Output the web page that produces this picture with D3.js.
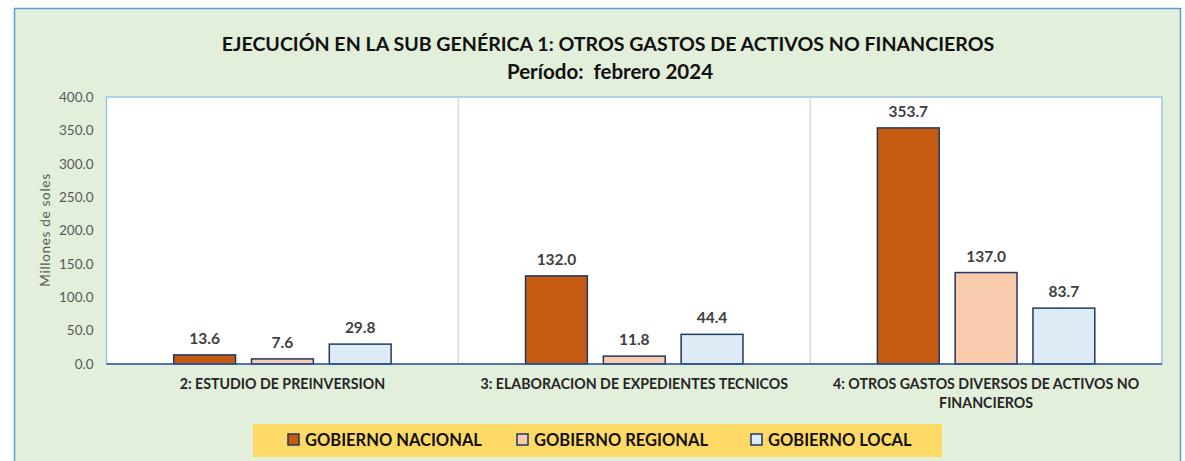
<!DOCTYPE html>
<html>
<head>
<meta charset="utf-8">
<script src="https://cdn.jsdelivr.net/npm/d3@7"></script>
<style>
  body { margin: 0; background: #fff; }
  svg { display: block; font-family: Lato, "Open Sans", sans-serif; }
</style>
</head>
<body>
<svg id="chart" width="1185" height="461"></svg>
<script>
// data
const categories = [
    ["2: ESTUDIO DE PREINVERSION"],
    ["3: ELABORACION DE EXPEDIENTES TECNICOS"],
    ["4: OTROS GASTOS DIVERSOS DE ACTIVOS NO", "FINANCIEROS"]
];
const seriesNames = ["GOBIERNO NACIONAL", "GOBIERNO REGIONAL", "GOBIERNO LOCAL"];
const nacional = [13.6, 132.0, 353.7];
const regional = [7.6, 11.8, 137.0];
const local = [29.8, 44.4, 83.7];
const yTicks = [0, 50, 100, 150, 200, 250, 300, 350, 400];
const colors = ["#C55A11", "#F8CBAD", "#DDEBF7"];

const seriesValues = [nacional, regional, local];

const svg = d3.select('#chart');

// outer frame
svg.append('rect')
    .attr('x', 14.5).attr('y', 8.5)
    .attr('width', 1166).attr('height', 460)
    .attr('fill', '#E2EFDA')
    .attr('stroke', '#5B9BD5')
    .attr('stroke-width', 1.5);

// title
svg.append('text')
    .attr('x', 608).attr('y', 51)
    .attr('text-anchor', 'middle')
    .attr('font-size', 19.6).attr('font-weight', 'bold')
    .attr('fill', '#111')
    .text('EJECUCIÓN EN LA SUB GENÉRICA 1: OTROS GASTOS DE ACTIVOS NO FINANCIEROS');
svg.append('text')
    .attr('x', 610).attr('y', 79)
    .attr('text-anchor', 'middle')
    .attr('font-size', 20.5).attr('font-weight', 'bold')
    .attr('fill', '#111')
    .attr('xml:space', 'preserve')
    .text('Período:  febrero 2024');

const plot = { left: 106.5, top: 97, right: 1162, bottom: 364 };

const y = d3.scaleLinear()
    .domain([0, 400])
    .range([plot.bottom, plot.top]);

const x0 = d3.scaleBand()
    .domain(d3.range(categories.length))
    .range([plot.left, plot.right])
    .padding(0);

const x1 = d3.scaleBand()
    .domain(d3.range(seriesNames.length))
    .range([0, x0.bandwidth()])
    .paddingInner(0.205)
    .paddingOuter(0.864);

// plot area
svg.append('rect')
    .attr('x', plot.left).attr('y', plot.top)
    .attr('width', plot.right - plot.left)
    .attr('height', plot.bottom - plot.top)
    .attr('fill', '#fff')
    .attr('stroke', '#9DC3E6')
    .attr('stroke-width', 1.5);

// category separators
svg.selectAll('.sep')
    .data(d3.range(1, categories.length))
    .join('line')
    .attr('class', 'sep')
    .attr('x1', d => x0(d)).attr('x2', d => x0(d))
    .attr('y1', plot.top).attr('y2', plot.bottom)
    .attr('stroke', '#D9D9D9')
    .attr('stroke-width', 1.5);

// y axis
const yAxis = svg.append('g')
    .attr('transform', `translate(${plot.left},0)`)
    .call(d3.axisLeft(y).tickValues(yTicks).tickFormat(d3.format('.1f')).tickSize(0).tickPadding(13));
yAxis.select('.domain').remove();
yAxis.selectAll('text')
    .attr('font-family', 'Lato, sans-serif')
    .attr('font-size', 13.5)
    .attr('fill', '#595959');

svg.append('text')
    .attr('transform', 'translate(50,230) rotate(-90)')
    .attr('text-anchor', 'middle')
    .attr('font-size', 13.5)
    .attr('fill', '#595959')
    .attr('letter-spacing', 0.7)
    .text('Millones de soles');

// bars
const groups = svg.selectAll('.grp')
    .data(categories)
    .join('g')
    .attr('class', 'grp')
    .attr('transform', (d, i) => `translate(${x0(i)},0)`);

groups.each(function (cat, ci) {
    const g = d3.select(this);
    const vals = seriesValues.map(s => s[ci]);
    g.selectAll('rect')
        .data(vals)
        .join('rect')
        .attr('x', (d, si) => x1(si))
        .attr('y', d => y(d))
        .attr('width', x1.bandwidth())
        .attr('height', d => plot.bottom - y(d))
        .attr('fill', (d, si) => colors[si])
        .attr('stroke', '#1F3864')
        .attr('stroke-width', 1.5);
    g.selectAll('.val')
        .data(vals)
        .join('text')
        .attr('class', 'val')
        .attr('x', (d, si) => x1(si) + x1.bandwidth() / 2)
        .attr('y', d => y(d) - 11)
        .attr('text-anchor', 'middle')
        .attr('font-size', 15.5)
        .attr('font-weight', 'bold')
        .attr('fill', '#404040')
        .text(d => d.toFixed(1));
});

// x axis line
svg.append('line')
    .attr('x1', plot.left).attr('x2', plot.right)
    .attr('y1', plot.bottom).attr('y2', plot.bottom)
    .attr('stroke', '#2F5597')
    .attr('stroke-width', 1.5);

// category labels
categories.forEach((lines, ci) => {
    const t = svg.append('text')
        .attr('text-anchor', 'middle')
        .attr('font-size', 14.2)
        .attr('font-weight', 'bold')
        .attr('fill', '#262626');
    lines.forEach((ln, li) => {
        t.append('tspan')
            .attr('x', x0(ci) + x0.bandwidth() / 2)
            .attr('y', 389 + li * 19)
            .text(ln);
    });
});

// legend
svg.append('rect')
    .attr('x', 253).attr('y', 424)
    .attr('width', 689).attr('height', 33)
    .attr('fill', '#FFD966');

const legendX = [288, 517, 751];
const legend = svg.selectAll('.leg')
    .data(seriesNames)
    .join('g')
    .attr('class', 'leg')
    .attr('transform', (d, i) => `translate(${legendX[i]},434)`);
legend.append('rect')
    .attr('width', 11).attr('height', 11)
    .attr('fill', (d, i) => colors[i])
    .attr('stroke', '#1F3864')
    .attr('stroke-width', 1.5);
legend.append('text')
    .attr('x', 17).attr('y', 11.5)
    .attr('font-size', 16.5)
    .attr('font-weight', 'bold')
    .attr('fill', '#111')
    .text(d => d);
</script>
</body>
</html>
